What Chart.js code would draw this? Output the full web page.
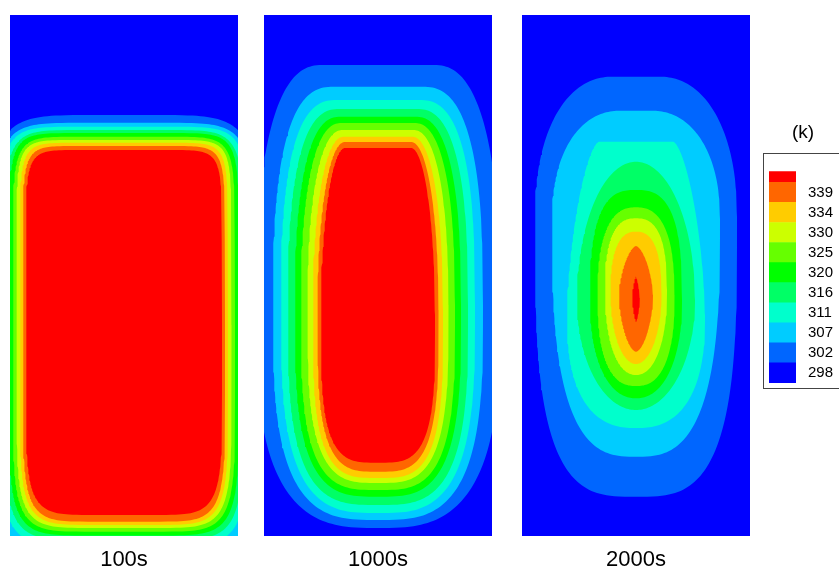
<!DOCTYPE html>
<html>
<head>
<meta charset="utf-8">
<script src="https://cdn.jsdelivr.net/npm/chart.js@4.4.0/dist/chart.umd.min.js"></script>
<style>
  html, body { margin: 0; padding: 0; background: #fff; overflow: hidden; }
  #wrap { position: relative; width: 839px; height: 568px; overflow: hidden; }
  canvas { position: absolute; top: 0; }
  #legend-frame { position: absolute; left: 763px; top: 153px; width: 90px; height: 234px; border: 1px solid #444; }
</style>
</head>
<body>
<div id="wrap">
  <canvas id="p100" width="228" height="600" style="left:10px"></canvas>
  <canvas id="p1000" width="228" height="600" style="left:264px"></canvas>
  <canvas id="p2000" width="228" height="600" style="left:522px"></canvas>
  <div id="legend-frame"></div>
  <canvas id="legend" width="68" height="294" style="left:769px;top:110px"></canvas>
</div>
<script>
"use strict";

const levels = [298, 302, 307, 311, 316, 320, 325, 330, 334, 339];
const bandColors = ['#0000ff', '#0066ff', '#00ccff', '#00ffcc', '#00ff66', '#00ff00',
                    '#66ff00', '#ccff00', '#ffcc00', '#ff6600', '#ff0000'];
const times = ['100s', '1000s', '2000s'];

// domain: width x depth (depth measured down from the top)
const domainWidth = 228;
const domainDepth = 521;

// isotherm k (k = 1..10) encloses the region warmer than levels[k]
// [half width, top, bottom, depth of widest point, top exponent, bottom exponent, flat top half width]
const iso100 = [
  [135, 100, 545, 310, 6, 6, 0],
  [129, 107.7, 538, 310, 7, 7, 0],
  [123.5, 111.7, 531, 310, 8, 7, 0],
  [119, 115, 525, 310, 8, 7, 0],
  [114.8, 118, 520.5, 310, 9, 7, 0],
  [111, 121.7, 516.7, 310, 9, 7, 0],
  [107.5, 125, 513, 310, 10, 7, 0],
  [104, 127.7, 510, 310, 10, 7, 0],
  [101, 131, 506.7, 310, 10, 7, 0],
  [98, 135, 500, 310, 10, 7, 0]
];
const iso1000 = [
  [122, 50, 513, 290, 2.5, 3, 55],
  [105, 71.7, 505, 290, 2.7, 3.2, 43],
  [97, 85, 498, 290, 2.7, 3.2, 40],
  [90, 94, 490, 290, 2.6, 3.3, 38],
  [83, 101.7, 481.7, 290, 2.5, 3.3, 37],
  [77, 108, 475, 290, 2.4, 3.4, 36],
  [70.5, 115, 468, 290, 2.3, 3.4, 35],
  [65, 121.7, 463, 295, 2.2, 3.5, 34],
  [60.5, 127, 456.7, 295, 2.1, 3.5, 33],
  [57, 133, 447.7, 300, 2, 3.6, 33]
];
const iso2000 = [
  [101, 61.7, 481.7, 202, 2.2, 3.3, 23],
  [84, 95.7, 441.7, 204, 2.2, 2.9, 15],
  [69, 126.7, 413, 300, 1.6, 2.5, 37],
  [59, 146.7, 395, 285, 2, 2, 0],
  [46, 175, 383.3, 285, 2.8, 2.2, 0],
  [38.5, 192.3, 371, 280, 2.5, 2.5, 0],
  [31, 203.3, 360, 275, 2.6, 2.2, 0],
  [25.5, 216.7, 349, 278, 2.5, 2, 0],
  [17, 231, 336.7, 280, 1.6, 1.7, 0],
  [3.8, 261.7, 306.7, 283, 1.4, 1.4, 0]
];

const textFont = 'Arial, "Liberation Sans", sans-serif';

// closed outline of one isotherm (superellipse, separate upper/lower halves)
function outline(c) {
  const [a, top, bottom, waist, nTop, nBot, tip] = c;
  const pts = [];
  const steps = 240;
  for (let i = 0; i <= steps; i++) {
    const t = i / steps * Math.PI * 2;
    const cs = Math.cos(t), sn = Math.sin(t);
    const upper = sn < 0;
    const n = upper ? nTop : nBot;
    const b = upper ? waist - top : bottom - waist;
    const f = upper ? tip : 0;
    pts.push({
      x: domainWidth / 2 + Math.sign(cs) * (f + (a - f) * Math.pow(Math.abs(cs), 2 / n)),
      y: waist + b * Math.sign(sn) * Math.pow(Math.abs(sn), 2 / n)
    });
  }
  return pts;
}

// coldest band fills the whole domain
const panelBg = {
  id: 'panelBg',
  beforeDatasetsDraw(chart, args, opts) {
    const {ctx, chartArea: a} = chart;
    ctx.save();
    ctx.fillStyle = opts.color;
    ctx.fillRect(a.left, a.top, a.width, a.height);
    ctx.restore();
  }
};

function makePanel(id, iso, label) {
  // warmest first so it is drawn on top
  const datasets = iso.map((c, k) => ({
    data: outline(c),
    showLine: true,
    fill: 'shape',
    backgroundColor: bandColors[k + 1],
    borderColor: 'rgba(0,0,0,0)',
    borderWidth: 0,
    pointRadius: 0,
    tension: 0
  })).reverse();

  return new Chart(document.getElementById(id), {
    type: 'scatter',
    data: { datasets: datasets },
    options: {
      responsive: false,
      animation: false,
      events: [],
      layout: { padding: { top: 15 } },
      plugins: {
        legend: { display: false },
        tooltip: { enabled: false },
        panelBg: { color: bandColors[0] }
      },
      scales: {
        x: {
          type: 'linear', min: 0, max: domainWidth,
          ticks: { display: false },
          grid: { display: false, drawTicks: false },
          border: { display: false },
          title: {
            display: true, text: label, color: '#000',
            font: { family: textFont, size: 22 },
            padding: { top: 10.6, bottom: 27 }
          }
        },
        y: { type: 'linear', min: 0, max: domainDepth, reverse: true, display: false }
      }
    },
    plugins: [panelBg]
  });
}

makePanel('p100', iso100, times[0]);
makePanel('p1000', iso1000, times[1]);
makePanel('p2000', iso2000, times[2]);

/* colour legend */
const legend_chart = new Chart(document.getElementById('legend'), {
  type: 'bar',
  data: {
    labels: [''],
    datasets: bandColors.map((c, i) => ({
      data: [i < levels.length ? 1 : 0.55],
      backgroundColor: c,
      borderWidth: 0,
      barPercentage: 1,
      categoryPercentage: 1
    }))
  },
  options: {
    responsive: false,
    animation: false,
    events: [],
    layout: { padding: { bottom: 3.3 } },
    plugins: {
      legend: { display: false },
      tooltip: { enabled: false },
      title: {
        display: true, text: '(k)', color: '#000',
        font: { family: textFont, size: 19, weight: 'normal' },
        padding: { top: 11.1, bottom: 27.4 }
      }
    },
    scales: {
      x: { stacked: true, display: false },
      y: {
        stacked: true, min: 0, max: levels.length + 0.55, position: 'right',
        grid: { display: false, drawTicks: false },
        border: { display: false },
        afterBuildTicks: (axis) => { axis.ticks = levels.map((v, i) => ({ value: i + 0.5 })); },
        afterFit: (axis) => { axis.width = 41; },
        ticks: {
          autoSkip: false, padding: 12, color: '#000',
          font: { family: textFont, size: 15 },
          callback: (v, i) => String(levels[i])
        }
      }
    }
  }
});
</script>
</body>
</html>
